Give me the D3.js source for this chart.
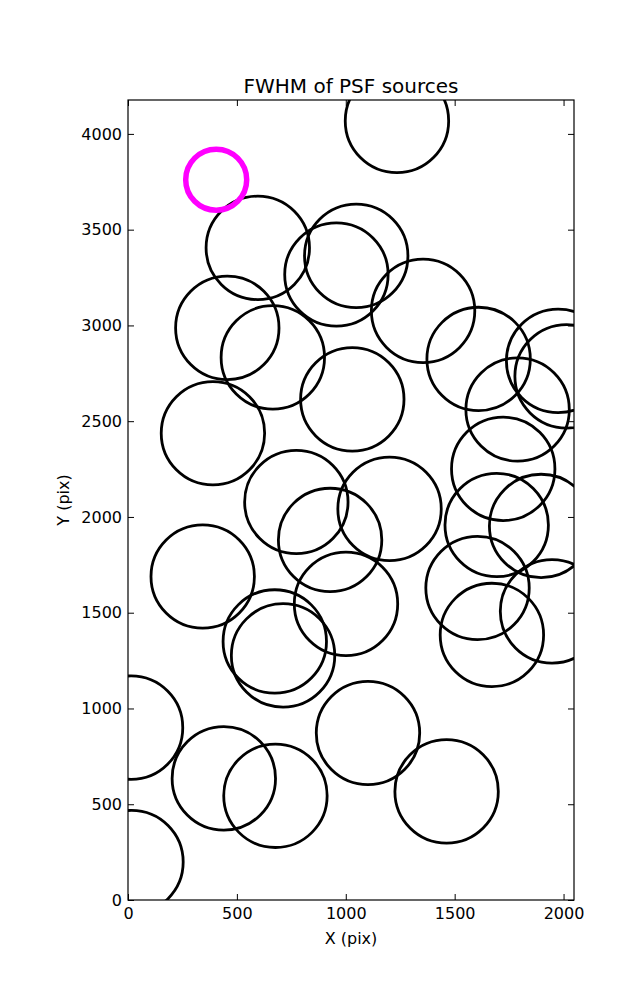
<!DOCTYPE html>
<html>
<head>
<meta charset="utf-8">
<script src="https://cdn.jsdelivr.net/npm/d3@7"></script>
<style>
  html, body { margin: 0; padding: 0; background: #fff; }
  svg { display: block; font-family: "DejaVu Sans", sans-serif; }
</style>
</head>
<body>
<svg id="chart" width="637" height="1000"></svg>
<script>
// ---- data ----
const srcX = [1235, 596, 1048, 957, 1355, 456, 665, 1610, 1975, 2014, 1789, 1030, 390, 1723, 773, 1201, 928, 1693, 1897, 343, 1605, 1001, 674, 1947, 712, 1671, 14, 1102, 440, 677, 1463, 16];
const srcY = [4068, 3405, 3363, 3266, 3076, 2987, 2833, 2825, 2815, 2734, 2561, 2614, 2437, 2251, 2078, 2042, 1880, 1958, 1953, 1689, 1629, 1546, 1350, 1507, 1277, 1384, 900, 872, 635, 544, 567, 198];
const hiX = [405];
const hiY = [3761];
const xTicks = [0, 500, 1000, 1500, 2000];
const yTicks = [0, 500, 1000, 1500, 2000, 2500, 3000, 3500, 4000];
const xDomain = [0, 2048];
const yDomain = [0, 4177];

// ---- layout ----
const L = 128, R = 574, T = 100, B = 900;
const svg = d3.select("#chart");
const x = d3.scaleLinear().domain(xDomain).range([L, R]);
const y = d3.scaleLinear().domain(yDomain).range([B, T]);

svg.append("defs").append("clipPath").attr("id", "clip")
  .append("rect").attr("x", L).attr("y", T).attr("width", R - L).attr("height", B - T);

const plot = svg.append("g").attr("clip-path", "url(#clip)");
plot.selectAll("circle.src").data(srcX.map((d, i) => [d, srcY[i]]))
  .enter().append("circle").attr("class", "src")
  .attr("cx", d => x(d[0])).attr("cy", d => y(d[1])).attr("r", 51.7)
  .attr("fill", "none").attr("stroke", "#000").attr("stroke-width", 2.8);
plot.selectAll("circle.hi").data(hiX.map((d, i) => [d, hiY[i]]))
  .enter().append("circle").attr("class", "hi")
  .attr("cx", d => x(d[0])).attr("cy", d => y(d[1])).attr("r", 30.5)
  .attr("fill", "none").attr("stroke", "#ff00ff").attr("stroke-width", 5.5);

// ---- axes ----
const fs = 16;
function style(g) {
  g.select(".domain").remove();
  g.selectAll(".tick line").attr("stroke", "#000").attr("stroke-width", 1);
  g.selectAll(".tick text").attr("fill", "#000").style("font-size", fs + "px")
    .style("font-family", "DejaVu Sans, sans-serif");
}
svg.append("g").attr("transform", `translate(0,${B})`)
  .call(d3.axisBottom(x).tickValues(xTicks).tickSizeInner(-6).tickSizeOuter(0).tickPadding(8).tickFormat(d3.format("d")))
  .call(style);
svg.append("g").attr("transform", `translate(0,${T})`)
  .call(d3.axisTop(x).tickValues(xTicks).tickSizeInner(-6).tickSizeOuter(0).tickFormat(""))
  .call(style);
svg.append("g").attr("transform", `translate(${L},0)`)
  .call(d3.axisLeft(y).tickValues(yTicks).tickSizeInner(-6).tickSizeOuter(0).tickPadding(6).tickFormat(d3.format("d")))
  .call(style);
svg.append("g").attr("transform", `translate(${R},0)`)
  .call(d3.axisRight(y).tickValues(yTicks).tickSizeInner(-6).tickSizeOuter(0).tickFormat(""))
  .call(style);

svg.append("rect").attr("x", L).attr("y", T).attr("width", R - L).attr("height", B - T)
  .attr("fill", "none").attr("stroke", "#000").attr("stroke-width", 1.2);

// ---- labels ----
svg.append("text").attr("x", (L + R) / 2).attr("y", 93).attr("text-anchor", "middle")
  .style("font-size", "20px").text("FWHM of PSF sources");
svg.append("text").attr("x", (L + R) / 2).attr("y", 944).attr("text-anchor", "middle")
  .style("font-size", "16px").text("X (pix)");
svg.append("text").attr("transform", `translate(69,${(T + B) / 2}) rotate(-90)`).attr("text-anchor", "middle")
  .style("font-size", "16px").text("Y (pix)");
</script>
</body>
</html>
